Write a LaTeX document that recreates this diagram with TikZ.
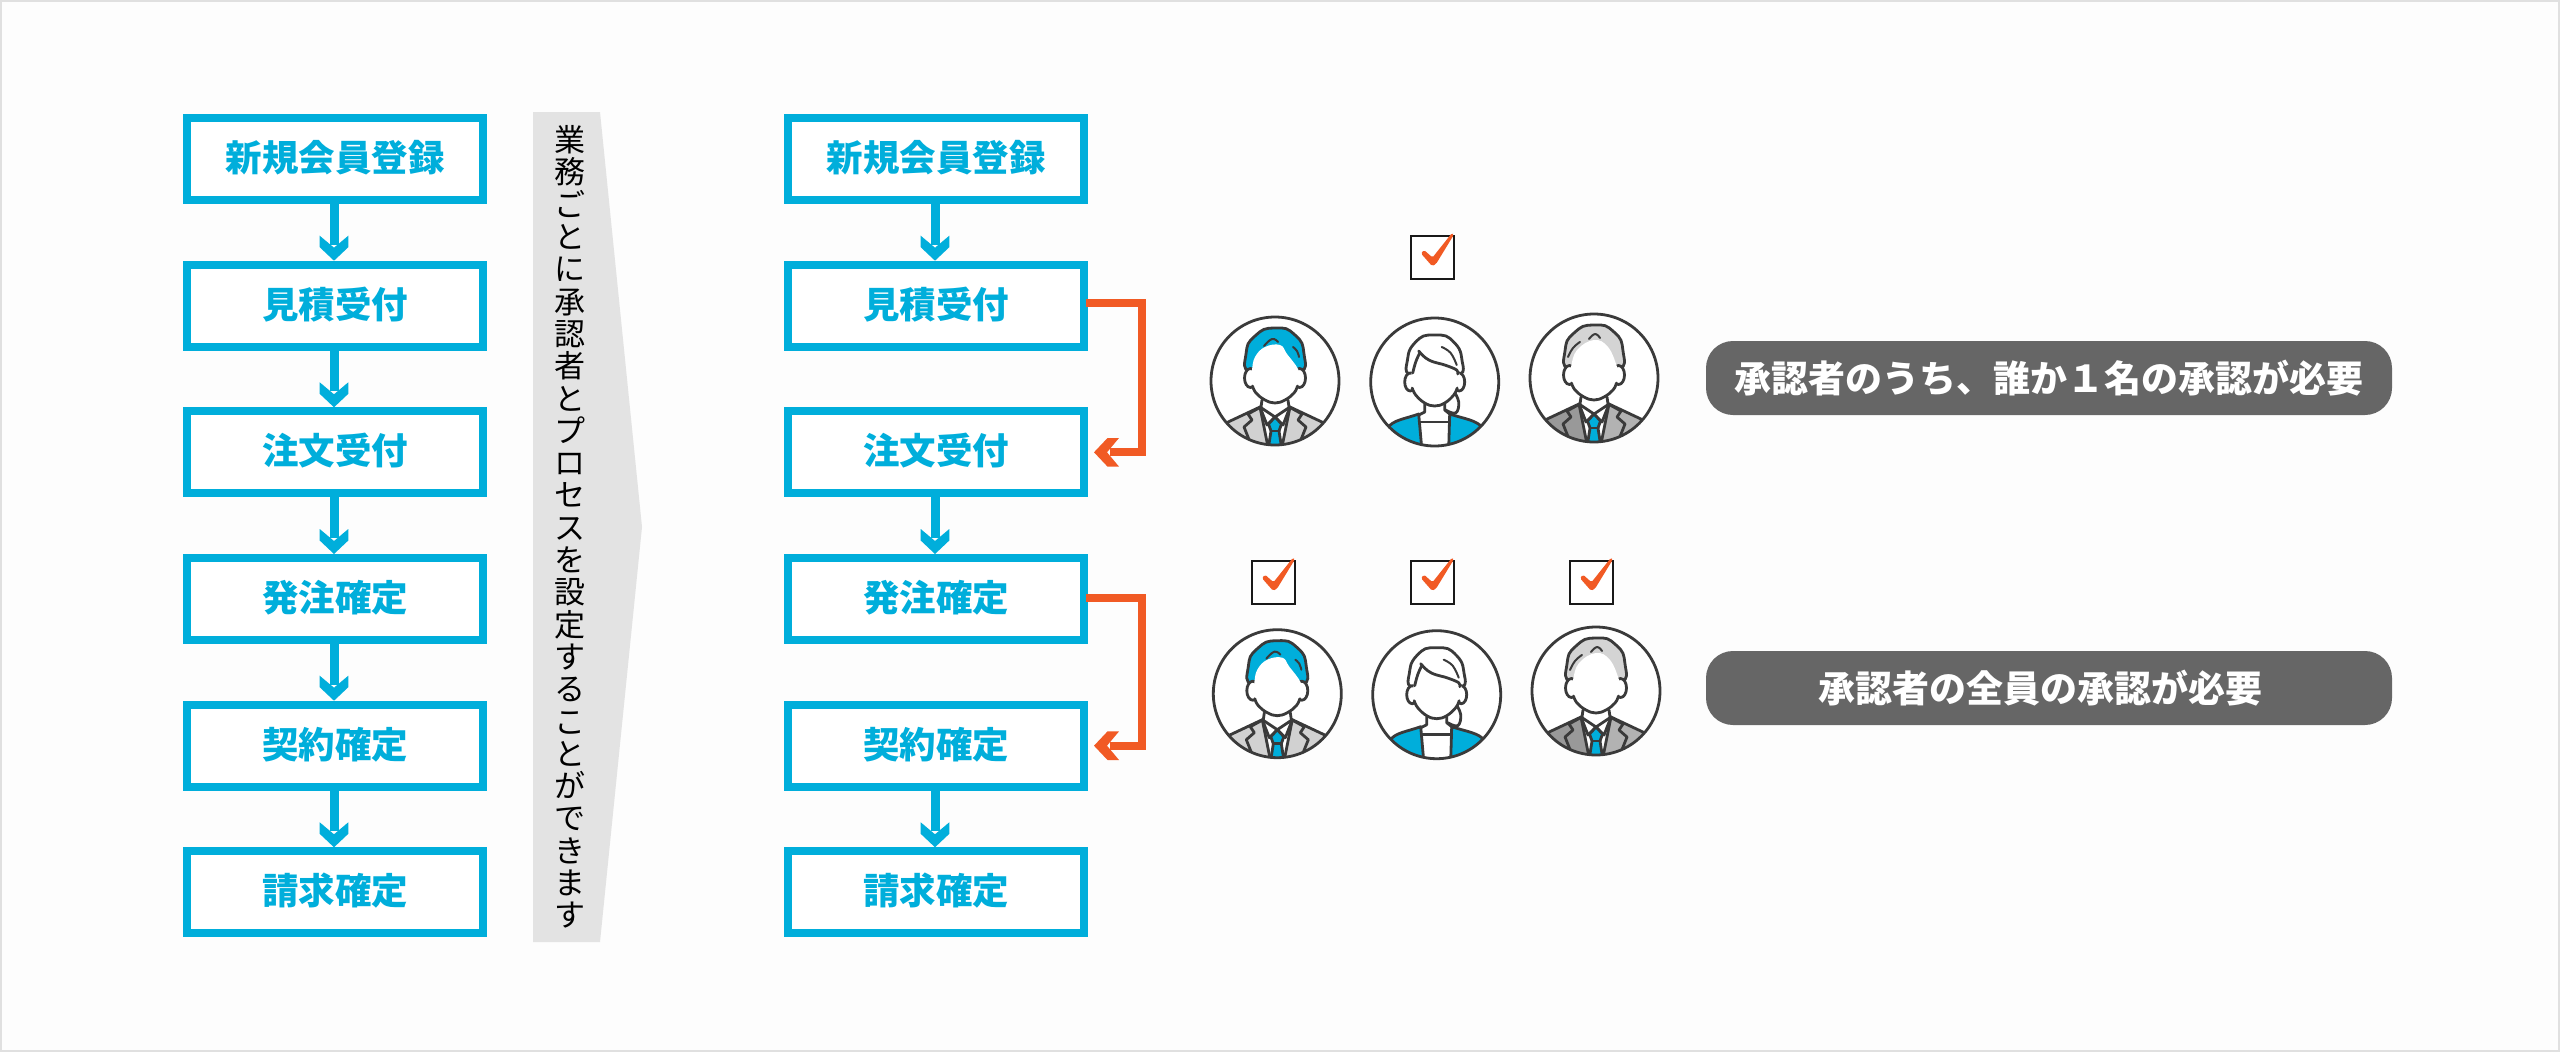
\documentclass[tikz,border=0pt]{standalone}
\usepackage{fontspec}
\setmainfont{Noto Sans CJK JP}
\usetikzlibrary{arrows.meta}
\definecolor{flowblue}{HTML}{00AEDB}
\definecolor{flaworange}{HTML}{F15A24}
\definecolor{inkline}{HTML}{3A3A3A}
\definecolor{bannergray}{HTML}{E3E3E3}
\definecolor{pillgray}{HTML}{666666}
\definecolor{pagefill}{HTML}{FDFDFD}
\definecolor{pageedge}{HTML}{E0E0E0}
\pgfdeclarearrow{
  name=Chev,
  setup code={
    \pgfarrowssettipend{0pt}
    \pgfarrowssetbackend{-25pt}
    \pgfarrowssetlineend{-16pt}
    \pgfarrowssetvisualbackend{-16pt}
    \pgfarrowshullpoint{0pt}{0pt}
    \pgfarrowshullpoint{-25pt}{14.3pt}
    \pgfarrowshullpoint{-25pt}{-14.3pt}
  },
  drawing code={
    \pgfsetfillcolor{pgfstrokecolor}
    \pgfpathmoveto{\pgfqpoint{0pt}{0pt}}
    \pgfpathlineto{\pgfqpoint{-13.5pt}{14.3pt}}
    \pgfpathlineto{\pgfqpoint{-25pt}{14.3pt}}
    \pgfpathlineto{\pgfqpoint{-13pt}{0pt}}
    \pgfpathlineto{\pgfqpoint{-25pt}{-14.3pt}}
    \pgfpathlineto{\pgfqpoint{-13.5pt}{-14.3pt}}
    \pgfpathclose
    \pgfusepathqfill
  }
}
\tikzset{
  flowbox/.style={draw=flowblue,fill=white,line width=8pt,minimum width=296pt,minimum height=82pt,inner sep=0pt,text=flowblue,text height=32pt,text depth=7pt,font=\fontsize{36.5}{40}\selectfont\bfseries},
  flowarrow/.style={draw=flowblue,line width=9pt,-{Chev}},
  approve/.style={draw=flaworange,line width=8pt,-{Chev},line join=miter},
  pill/.style={fill=pillgray,rounded corners=27pt,minimum width=686pt,minimum height=74pt,inner sep=0pt,text=white,font=\fontsize{37}{40}\selectfont\bfseries},
  ink/.style={draw=inkline,line width=2.8pt,line join=round,line cap=round},
  thinink/.style={ink,line width=2pt},
}
% #1 left suit, #2 right suit, #3 hair, #4 outline of the forehead
\newcommand{\manbody}[4]{%
  \fill[white] (0,0) circle (64);
  \begin{scope}
    \clip (0,0) circle (64);
    \filldraw[ink,fill=#1] (-49,42) -- (-15,26) -- (-7,66) -- (-49,70) -- cycle;
    \filldraw[ink,fill=#2] (49,42) -- (15,26) -- (7,66) -- (49,70) -- cycle;
    \draw[ink] (-16,27) -- (-27,33) -- (-23,39) -- (-31,46) -- (-23,66);
    \draw[ink] (16,27) -- (27,33) -- (23,39) -- (31,46) -- (23,66);
    \draw[ink] (-13,19) -- (-14,26) (13,19) -- (14,26);
    \draw[ink] (-15,26) -- (-8,44) -- (0,36) -- (8,44) -- (15,26);
    \draw[ink] (-15,26) -- (0,36) -- (15,26);
    \filldraw[ink,fill=flowblue] (0,36) -- (-6.5,43) -- (-4,50) -- (-6.5,66) -- (6.5,66) -- (4,50) -- (6.5,43) -- cycle;
    \draw[ink] (-4,50) -- (4,50);
  \end{scope}
  \filldraw[ink,fill=#3] plot[smooth cycle,tension=1] coordinates {(-25,-9) (-29,-27) (-20,-45) (0,-53) (20,-46) (29,-27) (25,-9) (0,-15)};
  \filldraw[ink,fill=white] (-24.5,-3) ellipse (6 and 9.5);
  \filldraw[ink,fill=white] (24.5,-3) ellipse (6 and 9.5);
  \fill[white] plot[smooth cycle,tension=.7] coordinates {#4 (23.5,-3) (21,9) (10,19) (0,22) (-10,19) (-21,9) (-23.5,-3)};
  \draw[ink] plot[smooth,tension=.7] coordinates {(-22.5,5) (-19,12) (-10,19) (0,22) (10,19) (19,12) (22.5,5)};
}
\newcommand{\personblue}[2]{%
  \begin{scope}[shift={(#1,#2)}]
    \manbody{black!18}{black!18}{flowblue}{(-23,-11) (-20,-24) (-10,-34) (5,-36) (12,-27) (23,-12)}
    \draw[thinink] plot[smooth,tension=.8] coordinates {(-11,-35) (-3,-42) (3,-39)};
    \draw[thinink] plot[smooth,tension=.8] coordinates {(18,-34) (22,-30) (24,-24)};
    \draw[ink] (0,0) circle (64);
  \end{scope}}
\newcommand{\persongray}[2]{%
  \begin{scope}[shift={(#1,#2)}]
    \manbody{black!40}{black!30}{black!17}{(-23,-11) (-17,-28) (0,-38) (14,-31) (23,-11)}
    \draw[thinink] plot[smooth,tension=.8] coordinates {(-26,-21) (-21,-30) (-14,-36)};
    \draw[thinink] plot[smooth,tension=.8] coordinates {(-5,-39) (1,-44) (6,-40)};
    \draw[ink] (0,0) circle (64);
  \end{scope}}
\newcommand{\personwoman}[2]{%
  \begin{scope}[shift={(#1,#2)}]
    \fill[white] (0,0) circle (64);
    \begin{scope}
      \clip (0,0) circle (64);
      \filldraw[ink,fill=flowblue] (-47,46) .. controls (-42,38) and (-30,37) .. (-16,32) -- (-13,66) -- (-47,70) -- cycle;
      \filldraw[ink,fill=flowblue] (48,46) .. controls (42,38) and (30,37) .. (15,32) -- (14,66) -- (48,70) -- cycle;
      \draw[ink] (-15,40) -- (15,40);
      \draw[ink] (-10,22) -- (-10,30) -- (-16,33);
      \draw[ink] (10,22) -- (10,28) -- (15,32);
      \draw[ink] plot[smooth,tension=.7] coordinates {(19,9) (24,20) (21,31) (11,28)};
    \end{scope}
    \draw[ink] plot[smooth,tension=1] coordinates {(-27,-9) (-28,-18) (-20,-39) (0,-47) (20,-39) (28,-18) (27,-9)};
    \filldraw[ink,fill=white] (-24.5,0) ellipse (5.5 and 9);
    \filldraw[ink,fill=white] (24.5,0) ellipse (5.5 and 9);
    \fill[white] plot[smooth cycle,tension=.6] coordinates {(-23,-9) (-15,-28) (-1,-20) (23,-11) (23.5,2) (19,13) (10,21) (0,24) (-10,21) (-19,13) (-23.5,2)};
    \draw[ink] plot[smooth,tension=.7] coordinates {(-22,-9) (-19,-20) (-15,-29)};
    \draw[ink] plot[smooth,tension=.7] coordinates {(-16,-31) (-9,-24) (-1,-20) (10,-17) (22,-12) (23,-8)};
    \draw[ink] plot[smooth,tension=.7] coordinates {(-22.5,6) (-19,13) (-10,21) (0,24) (10,21) (19,13) (22.5,6)};
    \draw[thinink] plot[smooth,tension=.7] coordinates {(7,-35) (16,-29) (22,-17)};
    \draw[ink] (0,0) circle (64);
  \end{scope}}
\newcommand{\tickbox}[2]{%
  \begin{scope}[shift={(#1,#2)}]
    \draw[black!90,line width=2.4pt,fill=white] (0,0) rectangle (43,43);
    \fill[flaworange,rounded corners=1.5pt] (10,17.5) -- (13,14) -- (21.5,21.5) -- (41,-3) -- (43,-1.5) -- (25,28) -- (21,30) -- cycle;
  \end{scope}}
\begin{document}
\begin{tikzpicture}[x=1pt,y=-1pt]
\useasboundingbox (0,0) rectangle (2560,1052);
\draw[draw=pageedge,fill=pagefill,line width=2pt] (1,1) rectangle (2559,1051);

% left column
\node[flowbox] (l1) at (335,159) {新規会員登録};
\node[flowbox] (l2) at (335,305.7) {見積受付};
\node[flowbox] (l3) at (335,452.3) {注文受付};
\node[flowbox] (l4) at (335,599) {発注確定};
\node[flowbox] (l5) at (335,745.7) {契約確定};
\node[flowbox] (l6) at (335,892.3) {請求確定};
\foreach \a/\b in {l1/l2,l2/l3,l3/l4,l4/l5,l5/l6} \draw[flowarrow] ([xshift=-1pt]\a.south) -- ([xshift=-1pt]\b.north);

% banner
\fill[bannergray] (533,112) -- (600,112) -- (642,527) -- (600,942) -- (533,942) -- cycle;
\node[align=center,inner sep=0pt,font=\fontsize{31}{32.3}\selectfont] (bannertext) at (570,527) {業\\務\\ご\\と\\に\\承\\認\\者\\と\\プ\\ロ\\セ\\ス\\を\\設\\定\\す\\る\\こ\\と\\が\\で\\き\\ま\\す};

% right column
\node[flowbox] (r1) at (936,159) {新規会員登録};
\node[flowbox] (r2) at (936,305.7) {見積受付};
\node[flowbox] (r3) at (936,452.3) {注文受付};
\node[flowbox] (r4) at (936,599) {発注確定};
\node[flowbox] (r5) at (936,745.7) {契約確定};
\node[flowbox] (r6) at (936,892.3) {請求確定};
\foreach \a/\b in {r1/r2,r3/r4,r5/r6} \draw[flowarrow] ([xshift=-1pt]\a.south) -- ([xshift=-1pt]\b.north);
\draw[approve] ([xshift=-2pt,yshift=2.4pt]r2.east) -- ++(56,0) |- ([xshift=6pt]r3.east);
\draw[approve] ([xshift=-2pt,yshift=1.4pt]r4.east) -- ++(56,0) |- ([xshift=6pt]r5.east);

% people
\personblue{1275}{381}
\personwoman{1434.7}{382}
\persongray{1594}{378}
\tickbox{1411}{236}
\personblue{1277.3}{693.7}
\personwoman{1436.7}{694.7}
\persongray{1596}{691}
\tickbox{1252}{560.7}
\tickbox{1411}{560.7}
\tickbox{1570}{560.7}

% pills
\node[pill] (p1) at (2049,378) {承認者のうち、誰か１名の承認が必要};
\node[pill] (p2) at (2049,688) {承認者の全員の承認が必要\kern18pt};
\end{tikzpicture}
\end{document}
